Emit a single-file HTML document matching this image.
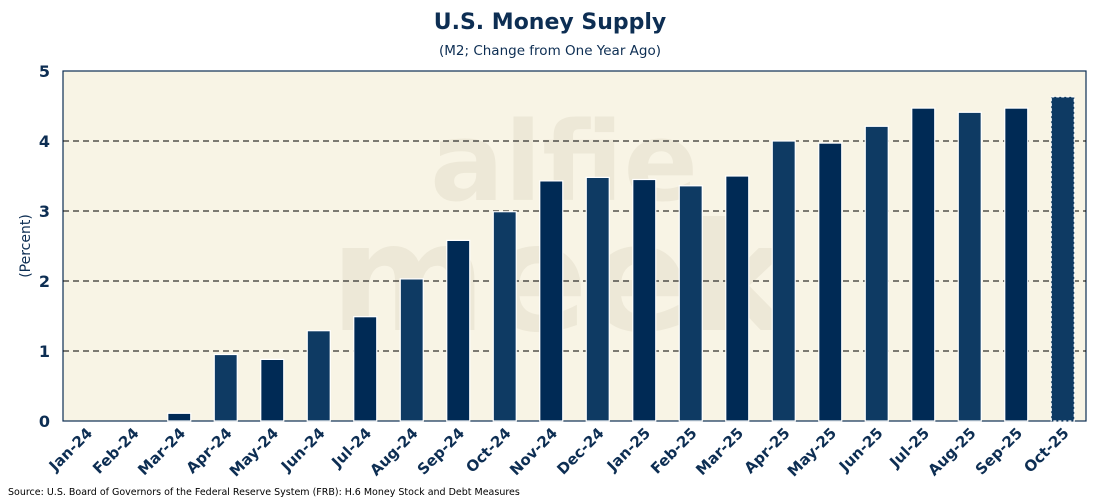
<!DOCTYPE html>
<html><head><meta charset="utf-8"><style>
body{margin:0;background:#fff;width:1100px;height:500px;overflow:hidden;font-family:"DejaVu Sans","Liberation Sans",sans-serif}
</style></head><body>
<svg id="chart" width="1100" height="500">
<text x="550" y="29" text-anchor="middle" font-size="22" font-weight="bold" fill="#0d2e53">U.S. Money Supply</text>
<text x="550" y="55" text-anchor="middle" font-size="13.5" fill="#0d2e53">(M2; Change from One Year Ago)</text>
<rect x="63" y="71" width="1023" height="350" fill="#f8f4e5" stroke="#0d2e53" stroke-width="1.2"/>
<g opacity="0.07" font-weight="bold" fill="#6b5a2a">
<text x="430" y="200" font-size="110">alfie</text>
<text x="330" y="330" font-size="150">meek</text>
</g>
<g id="grid"></g><g id="bars"></g><g id="yt"></g><g id="xt"></g>
<text transform="translate(30,246) rotate(-90)" text-anchor="middle" font-size="14" fill="#0d2e53">(Percent)</text>
<text x="8" y="495" font-size="9.5" fill="#000">Source: U.S. Board of Governors of the Federal Reserve System (FRB): H.6 Money Stock and Debt Measures</text>
</svg>
<script>
const categories=["Jan-24","Feb-24","Mar-24","Apr-24","May-24","Jun-24","Jul-24","Aug-24","Sep-24","Oct-24","Nov-24","Dec-24","Jan-25","Feb-25","Mar-25","Apr-25","May-25","Jun-25","Jul-25","Aug-25","Sep-25","Oct-25"];
const values=[0,0,0.11,0.95,0.88,1.29,1.49,2.03,2.58,2.99,3.43,3.48,3.45,3.36,3.50,4.00,3.97,4.21,4.47,4.41,4.47,4.63];
const yTicks=[0,1,2,3,4,5];
const NS="http://www.w3.org/2000/svg";
const L=63,R=1086,T=71,B=421,yMax=5;
const band=(R-L)/categories.length;
const y=v=>B-(v/yMax)*(B-T);
const x=i=>L+band*(i+0.5);
function mk(t,a,p){const e=document.createElementNS(NS,t);for(const k in a)e.setAttribute(k,a[k]);p.appendChild(e);return e;}
const G=document.getElementById('grid'),Bs=document.getElementById('bars'),Y=document.getElementById('yt'),X=document.getElementById('xt');
yTicks.forEach(t=>{
 if(t>0&&t<yMax){const l=mk('line',{x1:L,x2:R,y1:y(t),y2:y(t),stroke:'#000','stroke-width':1,'stroke-dasharray':'6,4'},G);
 
 }
 const tx=mk('text',{x:50,y:y(t)+6,'text-anchor':'end','font-size':16,'font-weight':'bold',fill:'#0d2e53'},Y);
 tx.textContent=t;
 
 
});
values.forEach((v,i)=>{
 const w=23,last=i===values.length-1;
 if(v>0){const r=mk('rect',{x:x(i)-w/2,y:y(v),width:w,height:B-y(v),fill:i%2?'#0e3a63':'#002a55',stroke:'#fff','stroke-width':1.2},Bs);
 if(last){r.setAttribute('stroke-dasharray','3,2');}
 
 }
 const tx=mk('text',{transform:`translate(${x(i)+7},${B+13}) rotate(-45)`,'text-anchor':'end','font-size':15,'font-weight':'bold',fill:'#0d2e53'},X);
 tx.textContent=categories[i];
 
 
});
</script>
</body></html>
